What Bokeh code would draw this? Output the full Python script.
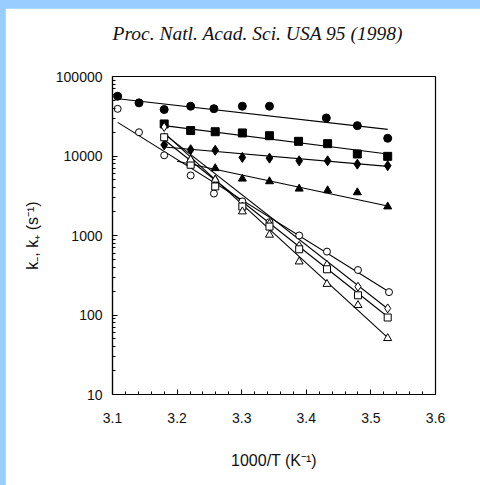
import numpy as np
from bokeh.plotting import figure
from bokeh.models import FixedTicker, PrintfTickFormatter, Title
from bokeh.layouts import column
from bokeh.embed import file_html
from bokeh.resources import INLINE

# ---------------- data ----------------
# filled symbols (k-)
fc_x = [3.108, 3.141, 3.180, 3.221, 3.257, 3.301, 3.343, 3.431, 3.479, 3.526]
fc_y = [56500, 46600, 38400, 42300, 39400, 42300, 42300, 30100, 24100, 16700]
fs_x = [3.180, 3.221, 3.259, 3.301, 3.343, 3.388, 3.433, 3.479, 3.526]
fs_y = [25300, 20900, 20200, 19500, 18000, 15300, 14300, 10600, 9900]
fd_x = [3.180, 3.221, 3.259, 3.301, 3.343, 3.389, 3.433, 3.479, 3.526]
fd_y = [13800, 12000, 11800, 9600, 9400, 8700, 8700, 7900, 7550]
ft_x = [3.221, 3.259, 3.301, 3.343, 3.389, 3.433, 3.479, 3.526]
ft_y = [8300, 7000, 5170, 4790, 3870, 3690, 3480, 2310]
# open symbols (k+)
oc_x = [3.108, 3.141, 3.180, 3.221, 3.257, 3.301, 3.343, 3.389, 3.432, 3.480, 3.528]
oc_y = [39200, 19900, 10200, 5690, 3370, 2680, 1470, 1000, 627, 368, 194]
od_x = [3.180, 3.221, 3.259, 3.301, 3.343, 3.389, 3.432, 3.480, 3.526]
od_y = [23200, 8980, 5020, 2313, 1400, 740, 426, 227, 121]
os_x = [3.180, 3.221, 3.259, 3.301, 3.343, 3.389, 3.432, 3.480, 3.526]
os_y = [17200, 7760, 4140, 2313, 1295, 671, 376, 177, 93]
ot_x = [3.221, 3.259, 3.301, 3.343, 3.389, 3.432, 3.480, 3.526]
ot_y = [8980, 5020, 2000, 1019, 469, 245, 133, 51]

# fitted lines: (x_start, x_end), (y_start, y_end)
fit_fc = ([3.105, 3.526], [52800, 21600])
fit_fs = ([3.180, 3.526], [24100, 10600])
fit_fd = ([3.180, 3.526], [13000, 7400])
fit_ft = ([3.200, 3.526], [8600, 2350])
fit_oc = ([3.108, 3.526], [26500, 200])
fit_od = ([3.180, 3.526], [19000, 120])
fit_os = ([3.180, 3.526], [16000, 95])
fit_ot = ([3.180, 3.526], [19500, 52])

x_ticks = [3.1, 3.2, 3.3, 3.4, 3.5, 3.6]
x_labels = ["3.1", "3.2", "3.3", "3.4", "3.5", "3.6"]
y_ticks = [10, 100, 1000, 10000, 100000]
y_labels = ["10", "100", "1000", "10000", "100000"]

title_text = "Proc. Natl. Acad. Sci. USA 95 (1998)"
x_title = "1000/T (K\u207b\u00b9)"
y_title = "k\u208b, k\u208a (s\u207b\u00b9)"

# ---------------- figure ----------------
p = figure(width=475, height=477, margin=(8, 0, 0, 5), title=None,
           x_range=(3.1, 3.6), y_range=(10, 100000), y_axis_type="log",
           output_backend="svg", toolbar_location=None,
           min_border_left=107, min_border_right=45,
           min_border_top=68, min_border_bottom=91,
           background_fill_color="white", border_fill_color="white")

p.grid.visible = False
p.outline_line_color = "black"
p.outline_line_width = 1.2

# spacer title next to the frame, then the real title above it
p.add_layout(Title(text=" ", text_font_size="10px", standoff=20), "above")
p.add_layout(Title(text=title_text, text_font="Liberation Serif",
                   text_font_style="italic", text_font_size="19.5px",
                   text_color="#111111", align="left", offset=0,
                   standoff=0), "above")

minor_x = [round(3.1 + 0.02 * i, 3) for i in range(26)]
p.xaxis.ticker = FixedTicker(ticks=x_ticks, minor_ticks=minor_x)
p.xaxis.major_label_overrides = {t: l for t, l in zip(x_ticks, x_labels)}
minor_y = [m * 10 ** e for e in range(1, 5) for m in range(2, 10)]
p.yaxis.ticker = FixedTicker(ticks=y_ticks, minor_ticks=minor_y)
p.yaxis.major_label_overrides = {t: l for t, l in zip(y_ticks, y_labels)}
p.yaxis.formatter = PrintfTickFormatter(format="%d")

for ax in (p.xaxis[0], p.yaxis[0]):
    ax.axis_line_color = "black"
    ax.axis_line_width = 1.2
    ax.major_tick_in = 5
    ax.major_tick_out = 0
    ax.minor_tick_in = 3
    ax.minor_tick_out = 0
    ax.major_tick_line_color = "black"
    ax.minor_tick_line_color = "black"
    ax.major_label_text_font = "Liberation Sans"
    ax.major_label_text_font_size = "14px"
    ax.major_label_text_color = "#111111"
    ax.axis_label_text_font = "Liberation Sans"
    ax.axis_label_text_font_size = "16px"
    ax.axis_label_text_font_style = "normal"
    ax.axis_label_text_color = "#111111"

p.xaxis.axis_label = x_title
p.yaxis.axis_label = y_title
p.xaxis.major_label_standoff = 18
p.yaxis.major_label_standoff = 10
p.xaxis.axis_label_standoff = 26
p.yaxis.axis_label_standoff = 12

# fitted lines
for fx, fy in (fit_fc, fit_fs, fit_fd, fit_ft, fit_oc, fit_od, fit_os, fit_ot):
    p.line(fx, fy, line_color="black", line_width=1.1)

# markers
p.scatter(fc_x, fc_y, marker="circle", size=8, fill_color="black", line_color="black")
p.scatter(fs_x, fs_y, marker="square", size=8, fill_color="black", line_color="black")
p.scatter(fd_x, fd_y, marker="diamond", size=10, fill_color="black", line_color="black")
p.scatter(ft_x, ft_y, marker="triangle", size=8, fill_color="black", line_color="black")
p.scatter(oc_x, oc_y, marker="circle", size=7, fill_color="white", line_color="black")
p.scatter(od_x, od_y, marker="diamond", size=9, fill_color="white", line_color="black")
p.scatter(os_x, os_y, marker="square", size=7, fill_color="white", line_color="black")
p.scatter(ot_x, ot_y, marker="triangle", size=8, fill_color="white", line_color="black")

page = column(p, styles={"background-color": "#99CCFF"})
open("out.html", "w").write(file_html(page, INLINE))
